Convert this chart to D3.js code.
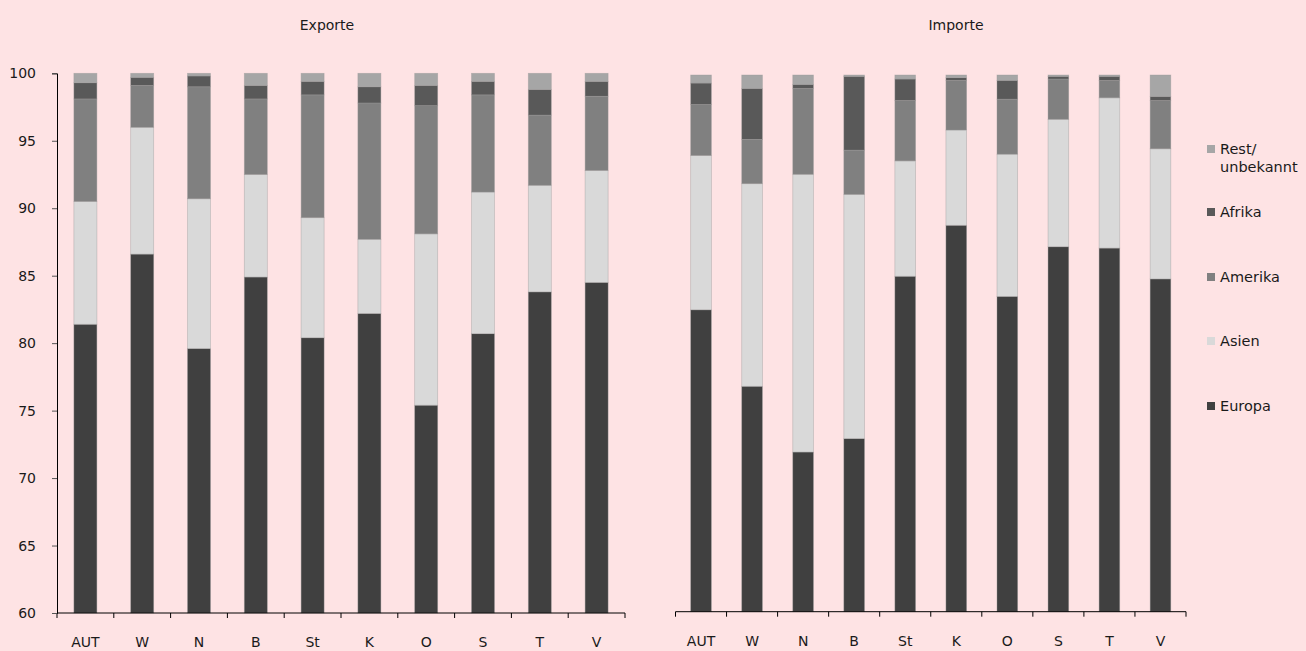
<!DOCTYPE html>
<html>
<head>
<meta charset="utf-8">
<script src="https://cdn.jsdelivr.net/npm/d3@7"></script>
<style>
  html, body { margin: 0; padding: 0; background: #fee3e4; }
  svg { display: block; }
  text { font-family: "DejaVu Sans", sans-serif; fill: #1a1a1a; }
</style>
</head>
<body>
<svg id="chart" width="1306" height="651"></svg>
<script>
// ---- data ----
const categories = ["AUT", "W", "N", "B", "St", "K", "O", "S", "T", "V"];
const seriesNames = ["Europa", "Asien", "Amerika", "Afrika", "Rest/ unbekannt"];
const seriesColors = ["#404040", "#d9d9d9", "#808080", "#595959", "#a6a6a6"];
const yTicks = [60, 65, 70, 75, 80, 85, 90, 95, 100];

// Exporte (share in %)
const expEuropa  = [81.4, 86.6, 79.6, 84.9, 80.4, 82.2, 75.4, 80.7, 83.8, 84.5];
const expAsien   = [9.1, 9.4, 11.1, 7.6, 8.9, 5.5, 12.7, 10.5, 7.9, 8.3];
const expAmerika = [7.6, 3.1, 8.3, 5.6, 9.1, 10.1, 9.5, 7.2, 5.2, 5.5];
const expAfrika  = [1.2, 0.6, 0.8, 1.0, 1.0, 1.2, 1.5, 1.0, 1.9, 1.1];
const expRest    = [0.7, 0.3, 0.2, 0.9, 0.6, 1.0, 0.9, 0.6, 1.2, 0.6];

// Importe (share in %)
const impEuropa  = [82.5, 76.8, 71.9, 72.9, 85.0, 88.8, 83.5, 87.2, 87.1, 84.8];
const impAsien   = [11.5, 15.1, 20.7, 18.2, 8.6, 7.1, 10.6, 9.5, 11.2, 9.7];
const impAmerika = [3.8, 3.3, 6.4, 3.3, 4.5, 3.7, 4.1, 3.0, 1.3, 3.6];
const impAfrika  = [1.6, 3.8, 0.3, 5.5, 1.6, 0.2, 1.4, 0.2, 0.3, 0.3];
const impRest    = [0.6, 1.0, 0.7, 0.1, 0.3, 0.2, 0.4, 0.1, 0.1, 1.6];

function buildRows(arrs) {
  return categories.map((c, i) => {
    const row = { cat: c };
    seriesNames.forEach((s, j) => { row[s] = arrs[j][i]; });
    return row;
  });
}
const expRows = buildRows([expEuropa, expAsien, expAmerika, expAfrika, expRest]);
const impRows = buildRows([impEuropa, impAsien, impAmerika, impAfrika, impRest]);

const svg = d3.select("#chart");
const stack = d3.stack().keys(seriesNames);
const color = d3.scaleOrdinal().domain(seriesNames).range(seriesColors);

function drawPanel(rows, opts) {
  const x = d3.scaleBand().domain(categories).range([opts.x0, opts.x1]).padding(0);
  const y = d3.scaleLinear().domain([60, 100]).range([opts.yBottom, opts.yTop]);
  const g = svg.append("g");
  const barW = x.bandwidth() * 0.405;

  const layers = stack(rows);
  g.selectAll("g.layer").data(layers).join("g")
    .attr("class", "layer")
    .attr("fill", d => color(d.key))
    .selectAll("rect").data(d => d).join("rect")
      .attr("x", d => x(d.data.cat) + (x.bandwidth() - barW) / 2)
      .attr("width", barW)
      .attr("y", d => y(Math.max(60, d[1])))
      .attr("height", d => Math.max(0, y(Math.max(60, d[0])) - y(Math.max(60, d[1]))))
      .attr("stroke", "#9a9a9a")
      .attr("stroke-opacity", 0.55)
      .attr("stroke-width", 0.7);

  // x axis: line, boundary ticks, labels
  const xa = g.append("g").attr("transform", `translate(0,${opts.yBottom})`);
  xa.append("line").attr("x1", opts.x0).attr("x2", opts.x1)
    .attr("stroke", "#000").attr("stroke-width", 1);
  const bounds = categories.map(c => x(c)).concat([opts.x1]);
  xa.selectAll("line.tk").data(bounds).join("line")
    .attr("class", "tk")
    .attr("x1", d => d).attr("x2", d => d)
    .attr("y1", 0).attr("y2", 5)
    .attr("stroke", "#000").attr("stroke-width", 1);
  xa.selectAll("text").data(categories).join("text")
    .attr("x", d => x(d) + x.bandwidth() / 2)
    .attr("y", 34)
    .attr("text-anchor", "middle")
    .attr("font-size", 14)
    .text(d => d);

  if (opts.yAxis) {
    const ya = g.append("g").attr("transform", `translate(${opts.x0},0)`)
      .call(d3.axisLeft(y).tickValues(yTicks).tickSize(5).tickPadding(16).tickFormat(d3.format("d")));
    ya.select(".domain").attr("stroke", "#000");
    ya.selectAll(".tick line").attr("stroke", "#555");
    ya.selectAll(".tick text").attr("font-size", 14)
      .attr("font-family", "DejaVu Sans, sans-serif").attr("fill", "#1a1a1a");
  }

  svg.append("text")
    .attr("x", opts.titleX).attr("y", 30)
    .attr("text-anchor", "middle")
    .attr("font-size", 14)
    .text(opts.title);
}

drawPanel(expRows, { x0: 57, x1: 625, yTop: 73.3, yBottom: 613, yAxis: true, title: "Exporte", titleX: 327 });
drawPanel(impRows, { x0: 675.5, x1: 1186, yTop: 75, yBottom: 611.7, yAxis: false, title: "Importe", titleX: 956 });

// legend (top-down order: Rest, Afrika, Amerika, Asien, Europa)
const legendY = { "Rest/ unbekannt": 149, "Afrika": 212, "Amerika": 277, "Asien": 341, "Europa": 406 };
const lg = svg.append("g");
const items = lg.selectAll("g").data(seriesNames.slice().reverse()).join("g")
  .attr("transform", d => `translate(1207,${legendY[d]})`);
items.append("rect").attr("x", 0).attr("y", -4).attr("width", 8).attr("height", 8)
  .attr("fill", d => color(d));
items.each(function(d) {
  const t = d3.select(this).append("text").attr("x", 13).attr("y", 5).attr("font-size", 14.5);
  const parts = d.split(" ");
  parts.forEach((p, i) => {
    t.append("tspan").attr("x", 13).attr("dy", i === 0 ? 0 : 18).text(p);
  });
});
</script>
</body>
</html>
